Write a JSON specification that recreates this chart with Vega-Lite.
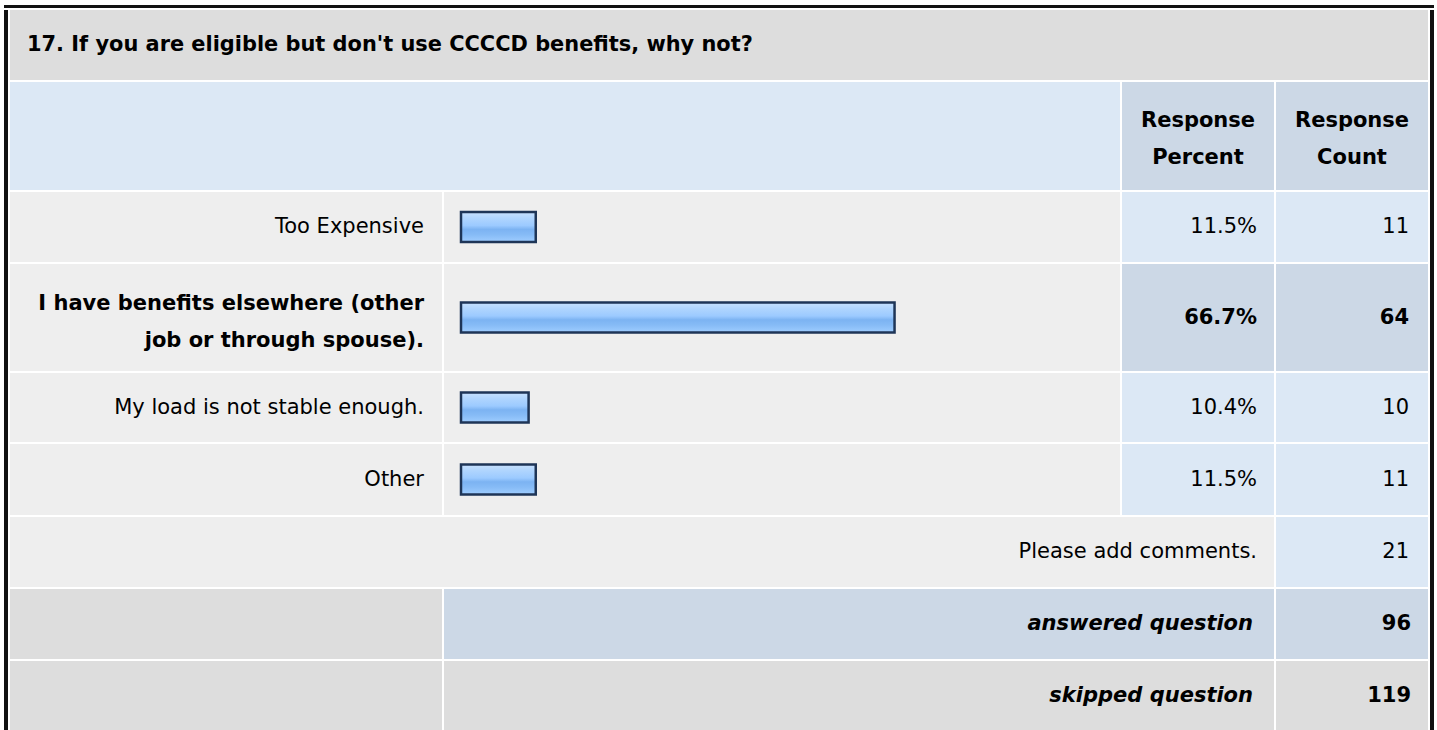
{
  "$schema": "https://vega.github.io/schema/vega-lite/v6.json",
  "padding": {"left": 4, "top": 5, "right": 0, "bottom": 0},
  "background": "white",
  "config": {
    "view": {"stroke": null},
    "concat": {"spacing": 2},
    "text": {"font": "DejaVu Sans", "fontSize": 21, "color": "#000000"}
  },
  "datasets": {
    "question": [{"question": "17. If you are eligible but don't use CCCCD benefits, why not?"}],
    "headers": [{"column": "Response Percent"}, {"column": "Response Count"}],
    "answers": [
      {"answer": "Too Expensive", "percent": 0.115, "count": 11},
      {"answer": "I have benefits elsewhere (other\njob or through spouse).", "percent": 0.667, "count": 64},
      {"answer": "My load is not stable enough.", "percent": 0.104, "count": 10},
      {"answer": "Other", "percent": 0.115, "count": 11}
    ],
    "summary": [
      {"label": "Please add comments.", "count": 21},
      {"label": "answered question", "count": 96},
      {"label": "skipped question", "count": 119}
    ]
  },
  "spacing": 2,
  "vconcat": [
    {"width": 1430, "height": 3, "data": {"name": "question"}, "view": {"fill": "#111111", "stroke": null}, "mark": {"type": "point", "size": 0, "opacity": 0, "strokeWidth": 0}},
    {
      "spacing": 2,
      "hconcat": [
        {"width": 4, "height": 720, "data": {"name": "question"}, "view": {"fill": "#111111", "stroke": null}, "mark": {"type": "point", "size": 0, "opacity": 0, "strokeWidth": 0}},
        {
          "spacing": 2,
          "vconcat": [
            {"width": 1418, "height": 70, "data": {"name": "question"}, "view": {"fill": "#dddddd", "stroke": null},
             "mark": {"type": "text", "align": "left", "baseline": "middle", "x": 0, "dx": 17, "fontWeight": "bold", "fontSize": 20.9},
             "encoding": {"text": {"field": "question", "type": "nominal"}}},
            {"spacing": 2, "hconcat": [
              {"width": 1110, "height": 108, "data": {"name": "question"}, "view": {"fill": "#dce8f5", "stroke": null}, "mark": {"type": "point", "size": 0, "opacity": 0, "strokeWidth": 0}},
              {"width": 152, "height": 108, "data": {"name": "headers"}, "transform": [{"filter": {"field": "column", "equal": "Response Percent"}}],
               "view": {"fill": "#ccd8e6", "stroke": null},
               "mark": {"type": "text", "align": "center", "baseline": "middle", "dy": -15, "fontWeight": "bold", "lineBreak": " ", "lineHeight": 37},
               "encoding": {"text": {"field": "column", "type": "nominal"}}},
              {"width": 152, "height": 108, "data": {"name": "headers"}, "transform": [{"filter": {"field": "column", "equal": "Response Count"}}],
               "view": {"fill": "#ccd8e6", "stroke": null},
               "mark": {"type": "text", "align": "center", "baseline": "middle", "dy": -15, "fontWeight": "bold", "lineBreak": " ", "lineHeight": 37},
               "encoding": {"text": {"field": "column", "type": "nominal"}}}
            ]},
            {"spacing": 2, "hconcat": [
              {"width": 432, "height": 70, "data": {"name": "answers"}, "transform": [{"filter": {"field": "answer", "equal": "Too Expensive"}}], "view": {"fill": "#eeeeee", "stroke": null},
               "mark": {"type": "text", "align": "right", "baseline": "middle", "x": "width", "dx": -18, "lineBreak": "\n", "lineHeight": 37},
               "encoding": {"text": {"field": "answer", "type": "nominal"}}},
              {"width": 676, "height": 70, "data": {"name": "answers"}, "transform": [{"filter": {"field": "answer", "equal": "Too Expensive"}}], "view": {"fill": "#eeeeee", "stroke": null},
               "mark": {"type": "bar", "height": 30, "stroke": "#1e3557", "strokeWidth": 2.5,
                 "fill": {"gradient": "linear", "x1": 0, "y1": 0, "x2": 0, "y2": 1, "stops": [
                   {"offset": 0, "color": "#c8e1fd"}, {"offset": 0.2, "color": "#b0d5fe"}, {"offset": 0.45, "color": "#9ccaff"},
                   {"offset": 0.58, "color": "#7cb3f2"}, {"offset": 0.75, "color": "#86bbf6"}, {"offset": 1, "color": "#9fcdff"}]}},
               "encoding": {"x": {"field": "percent", "type": "quantitative", "axis": null, "scale": {"domain": [0, 1], "range": [17, 667]}},
                            "y": {"field": "answer", "type": "nominal", "axis": null}}},
              {"width": 152, "height": 70, "data": {"name": "answers"}, "transform": [{"filter": {"field": "answer", "equal": "Too Expensive"}}], "view": {"fill": "#dce8f5", "stroke": null},
               "mark": {"type": "text", "align": "right", "baseline": "middle", "x": "width", "dx": -17},
               "encoding": {"text": {"field": "percent", "type": "quantitative", "format": ".1%"}}},
              {"width": 152, "height": 70, "data": {"name": "answers"}, "transform": [{"filter": {"field": "answer", "equal": "Too Expensive"}}], "view": {"fill": "#dce8f5", "stroke": null},
               "mark": {"type": "text", "align": "right", "baseline": "middle", "x": "width", "dx": -19},
               "encoding": {"text": {"field": "count", "type": "quantitative"}}}
            ]},
            {"spacing": 2, "hconcat": [
              {"width": 432, "height": 107, "data": {"name": "answers"}, "transform": [{"filter": "indexof(datum.answer, 'I have') === 0"}], "view": {"fill": "#eeeeee", "stroke": null},
               "mark": {"type": "text", "align": "right", "baseline": "middle", "x": "width", "dx": -18, "dy": -14, "lineBreak": "\n", "lineHeight": 37, "fontWeight": "bold"},
               "encoding": {"text": {"field": "answer", "type": "nominal"}}},
              {"width": 676, "height": 107, "data": {"name": "answers"}, "transform": [{"filter": "indexof(datum.answer, 'I have') === 0"}], "view": {"fill": "#eeeeee", "stroke": null},
               "mark": {"type": "bar", "height": 30, "stroke": "#1e3557", "strokeWidth": 2.5,
                 "fill": {"gradient": "linear", "x1": 0, "y1": 0, "x2": 0, "y2": 1, "stops": [
                   {"offset": 0, "color": "#c8e1fd"}, {"offset": 0.2, "color": "#b0d5fe"}, {"offset": 0.45, "color": "#9ccaff"},
                   {"offset": 0.58, "color": "#7cb3f2"}, {"offset": 0.75, "color": "#86bbf6"}, {"offset": 1, "color": "#9fcdff"}]}},
               "encoding": {"x": {"field": "percent", "type": "quantitative", "axis": null, "scale": {"domain": [0, 1], "range": [17, 667]}},
                            "y": {"field": "answer", "type": "nominal", "axis": null}}},
              {"width": 152, "height": 107, "data": {"name": "answers"}, "transform": [{"filter": "indexof(datum.answer, 'I have') === 0"}], "view": {"fill": "#ccd8e6", "stroke": null},
               "mark": {"type": "text", "align": "right", "baseline": "middle", "x": "width", "dx": -17, "fontWeight": "bold"},
               "encoding": {"text": {"field": "percent", "type": "quantitative", "format": ".1%"}}},
              {"width": 152, "height": 107, "data": {"name": "answers"}, "transform": [{"filter": "indexof(datum.answer, 'I have') === 0"}], "view": {"fill": "#ccd8e6", "stroke": null},
               "mark": {"type": "text", "align": "right", "baseline": "middle", "x": "width", "dx": -19, "fontWeight": "bold"},
               "encoding": {"text": {"field": "count", "type": "quantitative"}}}
            ]},
            {"spacing": 2, "hconcat": [
              {"width": 432, "height": 69, "data": {"name": "answers"}, "transform": [{"filter": {"field": "answer", "equal": "My load is not stable enough."}}], "view": {"fill": "#eeeeee", "stroke": null},
               "mark": {"type": "text", "align": "right", "baseline": "middle", "x": "width", "dx": -18, "lineBreak": "\n", "lineHeight": 37},
               "encoding": {"text": {"field": "answer", "type": "nominal"}}},
              {"width": 676, "height": 69, "data": {"name": "answers"}, "transform": [{"filter": {"field": "answer", "equal": "My load is not stable enough."}}], "view": {"fill": "#eeeeee", "stroke": null},
               "mark": {"type": "bar", "height": 30, "stroke": "#1e3557", "strokeWidth": 2.5,
                 "fill": {"gradient": "linear", "x1": 0, "y1": 0, "x2": 0, "y2": 1, "stops": [
                   {"offset": 0, "color": "#c8e1fd"}, {"offset": 0.2, "color": "#b0d5fe"}, {"offset": 0.45, "color": "#9ccaff"},
                   {"offset": 0.58, "color": "#7cb3f2"}, {"offset": 0.75, "color": "#86bbf6"}, {"offset": 1, "color": "#9fcdff"}]}},
               "encoding": {"x": {"field": "percent", "type": "quantitative", "axis": null, "scale": {"domain": [0, 1], "range": [17, 667]}},
                            "y": {"field": "answer", "type": "nominal", "axis": null}}},
              {"width": 152, "height": 69, "data": {"name": "answers"}, "transform": [{"filter": {"field": "answer", "equal": "My load is not stable enough."}}], "view": {"fill": "#dce8f5", "stroke": null},
               "mark": {"type": "text", "align": "right", "baseline": "middle", "x": "width", "dx": -17},
               "encoding": {"text": {"field": "percent", "type": "quantitative", "format": ".1%"}}},
              {"width": 152, "height": 69, "data": {"name": "answers"}, "transform": [{"filter": {"field": "answer", "equal": "My load is not stable enough."}}], "view": {"fill": "#dce8f5", "stroke": null},
               "mark": {"type": "text", "align": "right", "baseline": "middle", "x": "width", "dx": -19},
               "encoding": {"text": {"field": "count", "type": "quantitative"}}}
            ]},
            {"spacing": 2, "hconcat": [
              {"width": 432, "height": 71, "data": {"name": "answers"}, "transform": [{"filter": {"field": "answer", "equal": "Other"}}], "view": {"fill": "#eeeeee", "stroke": null},
               "mark": {"type": "text", "align": "right", "baseline": "middle", "x": "width", "dx": -18, "lineBreak": "\n", "lineHeight": 37},
               "encoding": {"text": {"field": "answer", "type": "nominal"}}},
              {"width": 676, "height": 71, "data": {"name": "answers"}, "transform": [{"filter": {"field": "answer", "equal": "Other"}}], "view": {"fill": "#eeeeee", "stroke": null},
               "mark": {"type": "bar", "height": 30, "stroke": "#1e3557", "strokeWidth": 2.5,
                 "fill": {"gradient": "linear", "x1": 0, "y1": 0, "x2": 0, "y2": 1, "stops": [
                   {"offset": 0, "color": "#c8e1fd"}, {"offset": 0.2, "color": "#b0d5fe"}, {"offset": 0.45, "color": "#9ccaff"},
                   {"offset": 0.58, "color": "#7cb3f2"}, {"offset": 0.75, "color": "#86bbf6"}, {"offset": 1, "color": "#9fcdff"}]}},
               "encoding": {"x": {"field": "percent", "type": "quantitative", "axis": null, "scale": {"domain": [0, 1], "range": [17, 667]}},
                            "y": {"field": "answer", "type": "nominal", "axis": null}}},
              {"width": 152, "height": 71, "data": {"name": "answers"}, "transform": [{"filter": {"field": "answer", "equal": "Other"}}], "view": {"fill": "#dce8f5", "stroke": null},
               "mark": {"type": "text", "align": "right", "baseline": "middle", "x": "width", "dx": -17},
               "encoding": {"text": {"field": "percent", "type": "quantitative", "format": ".1%"}}},
              {"width": 152, "height": 71, "data": {"name": "answers"}, "transform": [{"filter": {"field": "answer", "equal": "Other"}}], "view": {"fill": "#dce8f5", "stroke": null},
               "mark": {"type": "text", "align": "right", "baseline": "middle", "x": "width", "dx": -19},
               "encoding": {"text": {"field": "count", "type": "quantitative"}}}
            ]},
            {"spacing": 2, "hconcat": [
              {"width": 1264, "height": 70, "data": {"name": "summary"}, "transform": [{"filter": {"field": "label", "equal": "Please add comments."}}], "view": {"fill": "#eeeeee", "stroke": null},
               "mark": {"type": "text", "align": "right", "baseline": "middle", "x": "width", "dx": -17},
               "encoding": {"text": {"field": "label", "type": "nominal"}}},
              {"width": 152, "height": 70, "data": {"name": "summary"}, "transform": [{"filter": {"field": "label", "equal": "Please add comments."}}], "view": {"fill": "#dce8f5", "stroke": null},
               "mark": {"type": "text", "align": "right", "baseline": "middle", "x": "width", "dx": -19},
               "encoding": {"text": {"field": "count", "type": "quantitative"}}}
            ]},
            {"spacing": 2, "hconcat": [
              {"width": 432, "height": 70, "data": {"name": "question"}, "view": {"fill": "#dddddd", "stroke": null}, "mark": {"type": "point", "size": 0, "opacity": 0, "strokeWidth": 0}},
              {"width": 830, "height": 70, "data": {"name": "summary"}, "transform": [{"filter": {"field": "label", "equal": "answered question"}}], "view": {"fill": "#ccd8e6", "stroke": null},
               "mark": {"type": "text", "align": "right", "baseline": "middle", "x": "width", "dx": -21, "fontWeight": "bold", "fontStyle": "italic"},
               "encoding": {"text": {"field": "label", "type": "nominal"}}},
              {"width": 152, "height": 70, "data": {"name": "summary"}, "transform": [{"filter": {"field": "label", "equal": "answered question"}}], "view": {"fill": "#ccd8e6", "stroke": null},
               "mark": {"type": "text", "align": "right", "baseline": "middle", "x": "width", "dx": -17, "fontWeight": "bold"},
               "encoding": {"text": {"field": "count", "type": "quantitative"}}}
            ]},
            {"spacing": 2, "hconcat": [
              {"width": 432, "height": 69, "data": {"name": "question"}, "view": {"fill": "#dddddd", "stroke": null}, "mark": {"type": "point", "size": 0, "opacity": 0, "strokeWidth": 0}},
              {"width": 830, "height": 69, "data": {"name": "summary"}, "transform": [{"filter": {"field": "label", "equal": "skipped question"}}], "view": {"fill": "#dddddd", "stroke": null},
               "mark": {"type": "text", "align": "right", "baseline": "middle", "x": "width", "dx": -21, "fontWeight": "bold", "fontStyle": "italic"},
               "encoding": {"text": {"field": "label", "type": "nominal"}}},
              {"width": 152, "height": 69, "data": {"name": "summary"}, "transform": [{"filter": {"field": "label", "equal": "skipped question"}}], "view": {"fill": "#dddddd", "stroke": null},
               "mark": {"type": "text", "align": "right", "baseline": "middle", "x": "width", "dx": -17, "fontWeight": "bold"},
               "encoding": {"text": {"field": "count", "type": "quantitative"}}}
            ]}
          ]
        },
        {"width": 4, "height": 720, "data": {"name": "question"}, "view": {"fill": "#111111", "stroke": null}, "mark": {"type": "point", "size": 0, "opacity": 0, "strokeWidth": 0}}
      ]
    }
  ]
}
